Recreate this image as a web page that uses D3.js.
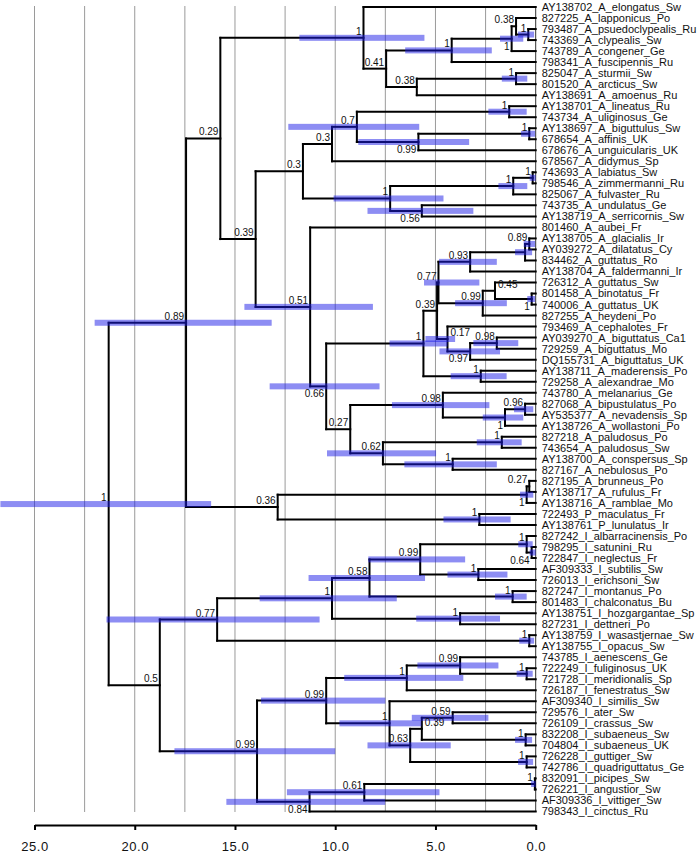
<!DOCTYPE html>
<html><head><meta charset="utf-8">
<script src="https://cdn.jsdelivr.net/npm/d3@7"></script>
<style>
body{margin:0;background:#fff}
svg{display:block}
text{font-family:"Liberation Sans",Arial,Helvetica,sans-serif;fill:#111}
</style>
</head><body>
<svg id="chart" width="698" height="853"></svg>
<script>
// ---------------- DATA ----------------
const leafNames = [
"AY138702_A_elongatus_Sw","827225_A_lapponicus_Po","793487_A_psuedoclypealis_Ru","743369_A_clypealis_Sw",
"743789_A_congener_Ge","798341_A_fuscipennis_Ru","825047_A_sturmii_Sw","801520_A_arcticus_Sw",
"AY138691_A_amoenus_Ru","AY138701_A_lineatus_Ru","743734_A_uliginosus_Ge","AY138697_A_biguttulus_Sw",
"678654_A_affinis_UK","678676_A_unguicularis_UK","678567_A_didymus_Sp","743693_A_labiatus_Sw",
"798546_A_zimmermanni_Ru","825067_A_fulvaster_Ru","743735_A_undulatus_Ge","AY138719_A_serricornis_Sw",
"801460_A_aubei_Fr","AY138705_A_glacialis_Ir","AY039272_A_dilatatus_Cy","834462_A_guttatus_Ro",
"AY138704_A_faldermanni_Ir","726312_A_guttatus_Sw","801458_A_binotatus_Fr","740006_A_guttatus_UK",
"827255_A_heydeni_Po","793469_A_cephalotes_Fr","AY039270_A_biguttatus_Ca1","729259_A_biguttatus_Mo",
"DQ155731_A_biguttatus_UK","AY138711_A_maderensis_Po","729258_A_alexandrae_Mo","743780_A_melanarius_Ge",
"827068_A_bipustulatus_Po","AY535377_A_nevadensis_Sp","AY138726_A_wollastoni_Po","827218_A_paludosus_Po",
"743654_A_paludosus_Sw","AY138700_A_conspersus_Sp","827167_A_nebulosus_Po","827195_A_brunneus_Po",
"AY138717_A_rufulus_Fr","AY138716_A_ramblae_Mo","722493_P_maculatus_Fr","AY138761_P_lunulatus_Ir",
"827242_I_albarracinensis_Po","798295_I_satunini_Ru","722847_I_neglectus_Fr","AF309333_I_subtilis_Sw",
"726013_I_erichsoni_Sw","827247_I_montanus_Po","801483_I_chalconatus_Bu","AY138751_I_hozgargantae_Sp",
"827231_I_dettneri_Po","AY138759_I_wasastjernae_Sw","AY138755_I_opacus_Sw","743785_I_aenescens_Ge",
"722249_I_fuliginosus_UK","721728_I_meridionalis_Sp","726187_I_fenestratus_Sw","AF309340_I_similis_Sw",
"729576_I_ater_Sw","726109_I_crassus_Sw","832208_I_subaeneus_Sw","704804_I_subaeneus_UK",
"726228_I_guttiger_Sw","742786_I_quadriguttatus_Ge","832091_I_picipes_Sw","726221_I_angustior_Sw",
"AF309336_I_vittiger_Sw","798343_I_cinctus_Ru"
];

// internal nodes (children: leaf index numbers or clade names)
const cladeNames = ["root","N089","N029","Ntop","N041","N1a","Nb","N038a","N23","N038b","Nst",
"N039a","N03b","N03a","N07","Nlin","N099a","N1112","N1b","N151617","N1516","N056",
"N051","N066","N1c","N039","N077","N093","Nx","N089i","N099","Ny","N045","N017","N097","N098","Nmad",
"N027","N098b","N1d","N096","N062","Npal","N1e","N036","N1f","N027b","Npun",
"N05","N077b","N1g","N058","N099c","N1h","N064","Nsub","Nmon","Nhoz","Nwas",
"N099b","N099d","N1i","N099e","N1k","N1j","N063","N039c","N059","Nsubae","Ngut","N084","N061","Npic"];

const cladeKids = [
["N089","N05"],["N029","N036"],["Ntop","N039a"],[0,"N041"],["N1a","N038b"],["Nb",5],["N038a",4],[1,"N23"],[2,3],["Nst",8],[6,7],
["N03b","N051"],["N03a","N1b"],["N07",14],["Nlin","N099a"],[9,10],["N1112",13],[11,12],["N151617","N056"],["N1516",17],[15,16],[18,19],
[20,"N066"],["N1c","N027"],["N039","Nmad"],["N077","N017"],["N093","N099"],["Nx",24],["N089i",23],[21,22],["Ny",28],[25,"N045"],[26,27],[29,"N097"],["N098",32],[30,31],[33,34],
["N098b","N062"],[35,"N1d"],["N096",38],[36,37],["Npal","N1e"],[39,40],[41,42],["N1f","Npun"],["N027b",45],[43,44],[46,47],
["N077b","N099b"],["N1g","Nwas"],["N058","Nhoz"],["N099c","Nmon"],["N1h","Nsub"],[48,"N064"],[49,50],[51,52],[53,54],[55,56],[57,58],
["N099d","N084"],["N1i","N1j"],["N099e",62],[59,"N1k"],[60,61],[63,"N063"],["N039c","Ngut"],["N059","Nsubae"],[64,65],[66,67],[68,69],["N061",73],["Npic",72],[70,71]
];

const cladeAges = [21.3,17.44,15.73,8.59,7.46,4.19,1.20,0.98,0.37,5.93,0.98,
13.97,11.61,10.16,8.92,1.32,5.85,0.32,7.26,1.12,0.15,5.68,
11.25,10.45,5.60,4.92,4.85,3.27,0.53,0.32,2.64,2.03,0.20,4.40,3.27,1.94,2.74,
9.25,4.63,1.53,0.53,7.62,1.69,4.14,12.87,0.45,0.32,2.81,
18.75,15.89,10.16,8.29,5.76,0.45,0.20,2.86,1.15,3.77,0.32,
13.90,10.45,6.43,3.77,0.45,7.29,6.26,5.68,4.14,0.50,0.45,11.28,8.55,0.04];

const cladeSupport = ["1","0.89","0.29","1","0.41","1","1","0.38","1","0.38","1",
"0.39","0.3","0.3","0.7","1","0.99","1","1","1","1","0.56",
"0.51","0.66","1","0.39","0.77","0.93","","0.89","0.99","0.45","1","0.17","0.97","0.98","1",
"0.27","0.98","1","0.96","0.62","1","1","0.36","1","0.27","1",
"0.5","0.77","1","0.58","0.99","1","0.64","1","1","1","1",
"0.99","0.99","1","0.99","1","1","0.63","0.39","0.59","1","1","0.84","0.61","1"];

// 95% HPD of node age (older bound, younger bound); null = no bar drawn
const hpdOld = [26.7,22.0,null,11.79,null,6.51,1.78,null,0.88,null,1.69,
null,null,null,12.34,2.36,8.85,0.73,10.08,1.86,0.30,8.39,
14.53,13.27,7.29,null,5.57,4.82,1.03,0.60,4.02,null,0.42,5.50,4.80,3.11,4.24,
null,7.17,2.64,1.08,10.41,2.94,6.55,null,0.78,null,4.60,
null,21.41,13.77,11.33,8.35,0.87,0.30,4.40,2.03,5.96,0.82,
18.02,13.70,9.55,5.90,0.95,9.79,8.39,null,6.18,1.03,0.88,15.43,12.41,0.23];
const hpdYoung = [16.19,13.17,null,5.55,null,2.19,0.62,null,0.08,null,0.42,
null,null,null,5.81,0.45,3.32,0.03,4.60,0.42,0.0,3.11,
8.12,7.79,4.40,null,2.81,1.94,0.18,0.03,1.44,null,0.03,4.02,1.78,0.87,1.45,
null,2.31,0.62,0.12,4.97,0.70,1.94,null,0.12,null,1.25,
null,10.78,6.93,5.52,3.52,0.15,0.0,1.41,0.45,1.78,0.08,
10.00,7.50,3.61,1.86,0.15,5.70,4.24,null,2.36,0.18,0.13,7.51,4.80,0.0];

const gridValues = [25,22.5,20,17.5,15,12.5,10,7.5,5,2.5,0];
const tickValues = [25,20,15,10,5,0];
const tickLabels = ["25.0","20.0","15.0","10.0","5.0","0.0"];

// ---------------- LAYOUT ----------------
const labelBelow = new Set(["Nb","N099a","N056","N066","N045","N097","N1d","N1f","N064","N084"]);
const labelStart = new Set(["Ny","N017","N039c"]);

const cladeIndex = new Map(cladeNames.map((n, i) => [n, i]));
function build(ref) {
  if (typeof ref === "number") return {leaf: ref, name: leafNames[ref], age: 0};
  const i = cladeIndex.get(ref);
  return {
    name: ref, age: cladeAges[i], support: cladeSupport[i],
    hpd: hpdOld[i] == null ? null : [hpdOld[i], hpdYoung[i]],
    children: cladeKids[i].map(build)
  };
}
const root = d3.hierarchy(build("root"));

const x = d3.scaleLinear().domain([25, 0]).range([34.5, 535.7]);
const yLeaf = d3.scaleLinear().domain([0, leafNames.length - 1]).range([7, 811.5]);

root.eachAfter(n => {
  n.px = x(n.data.age);
  if (!n.children) n.py = yLeaf(n.data.leaf);
  else n.py = (n.children[0].py + n.children[n.children.length - 1].py) / 2;
});

const svg = d3.select("#chart");

// grid lines
svg.append("g").selectAll("line").data(gridValues).join("line")
  .attr("x1", d => x(d)).attr("x2", d => x(d))
  .attr("y1", 6).attr("y2", 812)
  .attr("stroke", d => d === 0 ? "#333" : "#9a9a9a").attr("stroke-width", 1);

// tree branches
const edges = svg.append("g").attr("fill", "none").attr("stroke", "#000")
  .attr("stroke-width", 2).attr("stroke-linecap", "square");
root.descendants().forEach(n => {
  if (n.parent) {
    edges.append("path").attr("d", `M${n.parent.px},${n.py}H${n.px}`);
  }
  if (n.children) {
    const c = n.children;
    edges.append("path").attr("d", `M${n.px},${c[0].py}V${c[c.length - 1].py}`);
  }
});

// HPD bars
const internal = root.descendants().filter(n => n.children && n.data.hpd);
svg.append("g").selectAll("rect").data(internal).join("rect")
  .attr("x", d => x(d.data.hpd[0]))
  .attr("width", d => Math.max(1, x(d.data.hpd[1]) - x(d.data.hpd[0])))
  .attr("y", d => d.py - 3).attr("height", 6)
  .attr("fill", "#1c1ce8").attr("fill-opacity", 0.5);

// support labels
const lab = root.descendants().filter(n => n.children && n.data.support);
svg.append("g").selectAll("text").data(lab).join("text")
  .attr("font-size", 10)
  .attr("text-anchor", d => labelStart.has(d.data.name) ? "start" : "end")
  .attr("x", d => labelStart.has(d.data.name) ? d.px + 3 : d.px - 2)
  .attr("y", d => labelBelow.has(d.data.name) ? d.py + 11 : d.py - 3)
  .text(d => d.data.support);

// leaf labels
svg.append("g").selectAll("text").data(root.leaves()).join("text")
  .attr("font-size", 11)
  .attr("x", x(0) + 6)
  .attr("y", d => d.py)
  .attr("dy", "0.36em")
  .text(d => d.data.name);

// axis
const axis = d3.axisBottom(x).tickValues(tickValues)
  .tickFormat((d, i) => tickLabels[i]).tickSize(5).tickSizeOuter(0).tickPadding(12);
const ag = svg.append("g").attr("transform", "translate(0,825)").call(axis);
ag.select(".domain").attr("stroke", "#000").attr("stroke-width", 2);
ag.selectAll(".tick line").attr("stroke", "#000").attr("stroke-width", 2);
ag.selectAll(".tick text").attr("font-size", 13).attr("fill", "#111")
  .attr("font-family", "'Liberation Sans',Arial,sans-serif").attr("letter-spacing", "0.5px");
</script>
</body></html>
